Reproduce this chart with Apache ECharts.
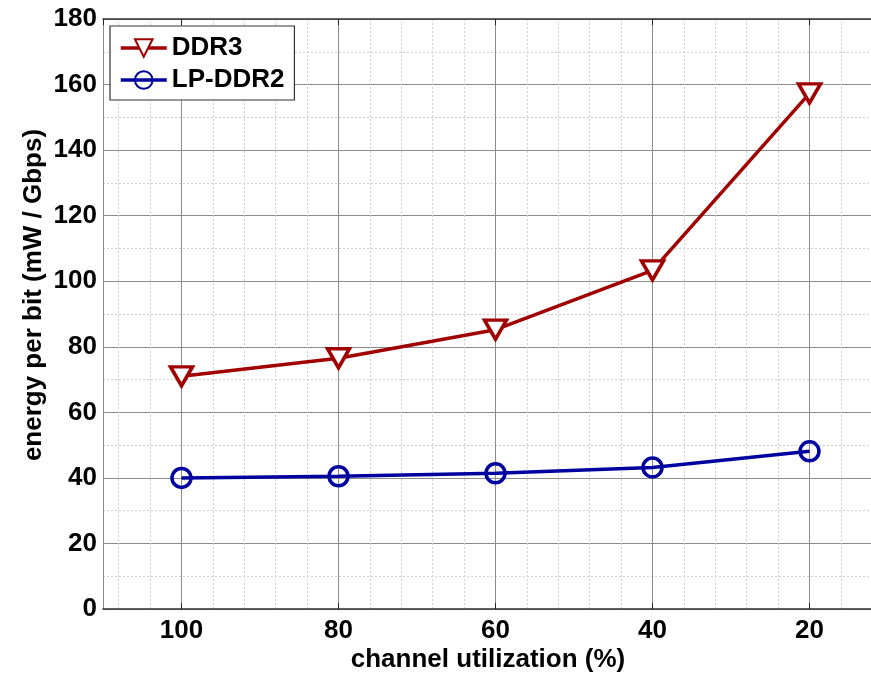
<!DOCTYPE html>
<html><head><meta charset="utf-8">
<script src="https://cdn.jsdelivr.net/npm/echarts@6/dist/echarts.min.js"></script>
<style>html,body{margin:0;padding:0;background:#fff}#c{width:871px;height:673px}</style>
</head><body><div id="c"></div>
<script>
const utilization = [100, 80, 60, 40, 20];
const ddr3 = [71, 76.5, 85.2, 103.3, 157.3];
const lpddr2 = [40, 40.5, 41.4, 43.2, 48.1];
const xName = 'channel utilization (%)';
const yName = 'energy per bit (mW / Gbps)';
const seriesNames = ['DDR3', 'LP-DDR2'];

const FONT = '"Liberation Sans", Arial, sans-serif';
const red = '#a00000', blue = '#0000a0';
const chart = echarts.init(document.getElementById('c'));
const common = {
  type: 'value', min: 0, max: 110, interval: 20, inverse: true,
  splitLine: {show: true, lineStyle: {color: '#8c8c8c', width: 1}},
  minorTick: {show: false, splitNumber: 5},
  minorSplitLine: {show: true, lineStyle: {color: '#cfcfcf', type: [2, 2], width: 1}},
  axisLine: {show: true, lineStyle: {color: '#333', width: 1.5}},
  axisTick: {show: true, inside: true, length: 6, lineStyle: {color: '#222'}}
};
chart.setOption({
  animation: false,
  grid: {left: 103, top: 19, width: 863.5, height: 590, show: false, outerBoundsMode: 'none', containLabel: false},
  legend: {
    left: 110, top: 26, orient: 'vertical', padding: [9, 10, 7, 9],
    backgroundColor: '#fff', borderColor: '#333', borderWidth: 1.2, borderRadius: 0,
    itemWidth: 46, itemHeight: 22, itemGap: 6,
    lineStyle: {width: 3.5},
    textStyle: {fontFamily: FONT, fontWeight: 'bold', fontSize: 26, color: '#000'},
    data: seriesNames
  },
  graphic: [
    {type: 'text', x: 488, y: 660, style: {text: xName, font: 'bold 26px ' + FONT, fill: '#000', align: 'center', verticalAlign: 'middle'}},
    {type: 'text', x: 34, y: 295, rotation: Math.PI / 2, style: {text: yName, font: 'bold 26px ' + FONT, fill: '#000', align: 'center', verticalAlign: 'middle'}}
  ],
  xAxis: [
    Object.assign({}, common, {
      position: 'bottom',
      axisLabel: {fontFamily: FONT, fontWeight: 'bold', fontSize: 26, color: '#000', margin: 9, showMaxLabel: false}
    }),
    Object.assign({}, common, {
      position: 'top', axisLabel: {show: false},
      splitLine: {show: false}, minorSplitLine: {show: false}
    })
  ],
  yAxis: {
    type: 'value', min: 0, max: 180, interval: 20,
    splitLine: {show: true, lineStyle: {color: '#8c8c8c', width: 1}},
    minorTick: {show: false, splitNumber: 2},
    minorSplitLine: {show: true, lineStyle: {color: '#cfcfcf', type: [2, 2], width: 1}},
    axisLine: {show: true, lineStyle: {color: '#333', width: 1.5}},
    axisTick: {show: true, inside: true, length: 6, lineStyle: {color: '#222'}},
    axisLabel: {fontFamily: FONT, fontWeight: 'bold', fontSize: 26, color: '#000', margin: 6}
  },
  series: [
    {
      name: seriesNames[0], type: 'line',
      data: utilization.map((x, i) => [x, ddr3[i]]),
      symbol: 'triangle', symbolRotate: 180, symbolSize: [22, 19],
      lineStyle: {color: red, width: 3.5},
      itemStyle: {color: '#fff', borderColor: red, borderWidth: 3.5},
      z: 3
    },
    {
      name: seriesNames[1], type: 'line',
      data: utilization.map((x, i) => [x, lpddr2[i]]),
      symbol: 'circle', symbolSize: 19,
      lineStyle: {color: blue, width: 3.5},
      itemStyle: {color: 'rgba(255,255,255,0)', borderColor: blue, borderWidth: 3.5},
      z: 3
    }
  ]
});
</script></body></html>
